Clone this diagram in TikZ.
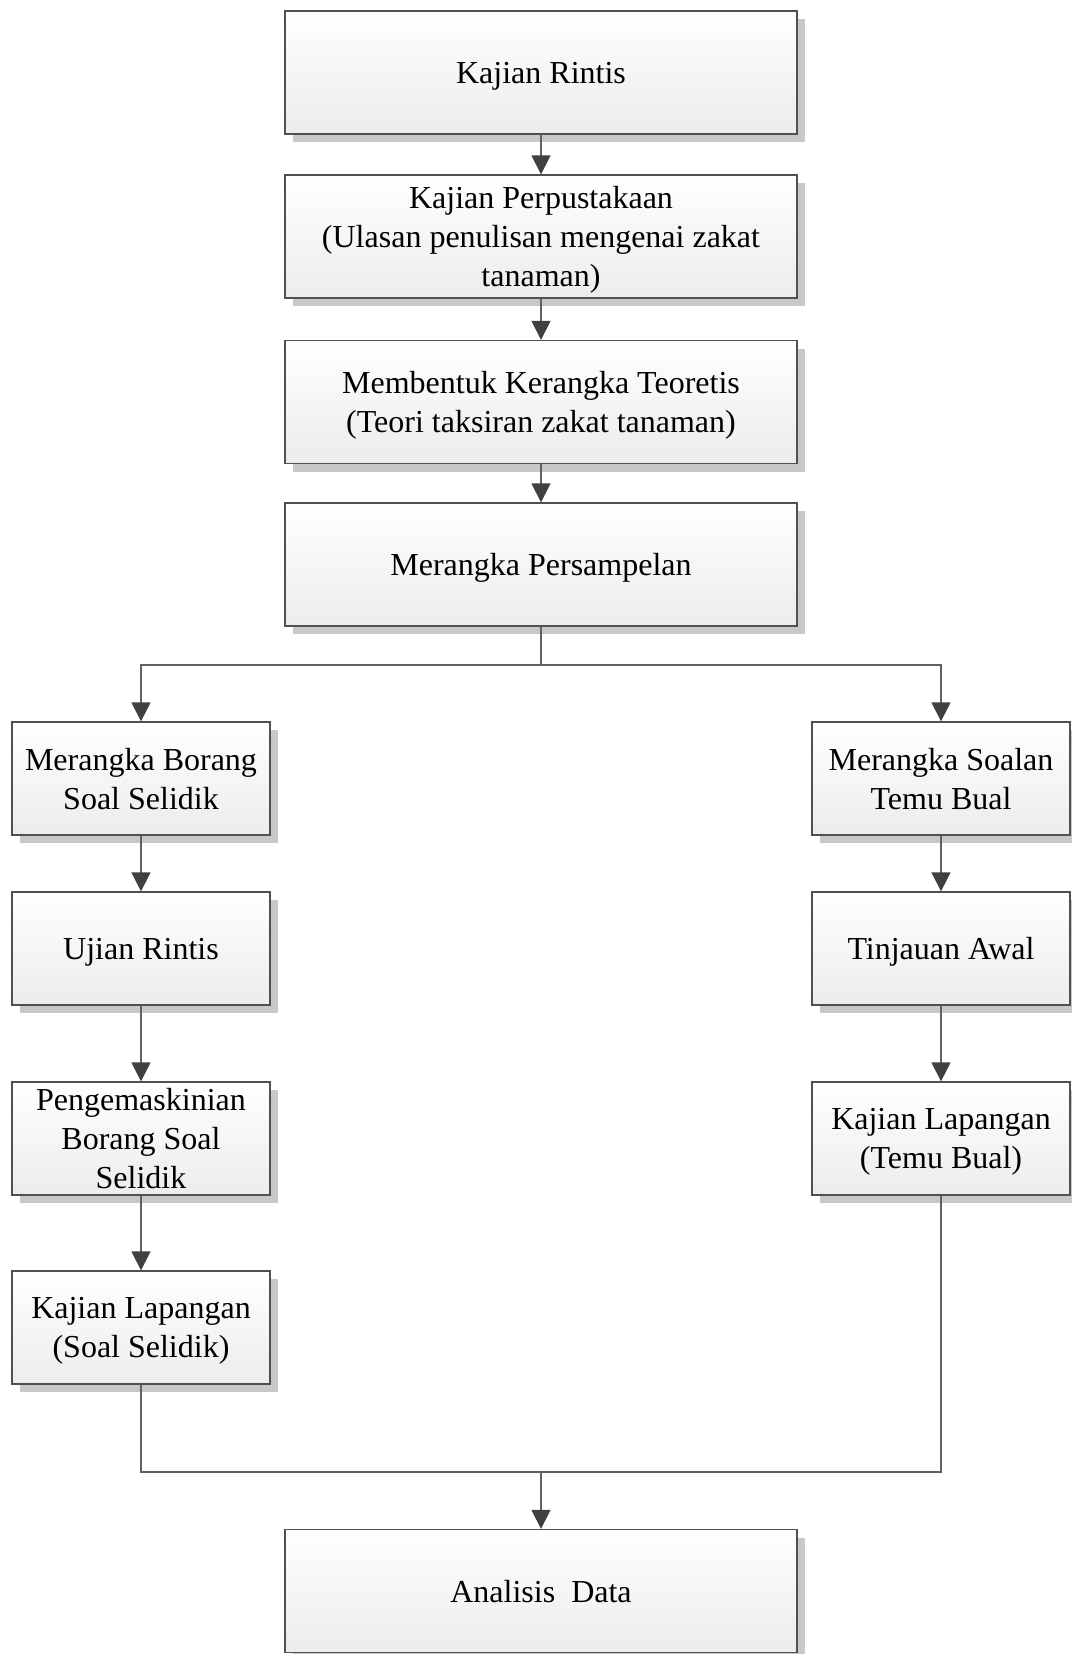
\documentclass[tikz,border=0pt]{standalone}
\usepackage{fontspec}
\setmainfont{Liberation Serif}
\usetikzlibrary{arrows.meta,shadows}
\definecolor{boxline}{HTML}{505050}
\definecolor{conn}{HTML}{606060}
\definecolor{headfill}{HTML}{404040}
\definecolor{shadowc}{HTML}{C8C8C8}
\definecolor{botc}{HTML}{ECECEC}
\tikzset{
  flowbox/.style={draw=boxline, line width=1.3pt, rectangle, top color=white, bottom color=botc,
    align=center, inner sep=0pt, text depth=0pt, font=\fontsize{32}{39}\selectfont, text=black,
    drop shadow={shadow xshift=8pt, shadow yshift=-8pt, fill=shadowc, opacity=1}},
  mainbox/.style={flowbox, minimum width=512pt, minimum height=123pt},
  sidebox/.style={flowbox, minimum width=258pt, minimum height=113pt},
  conline/.style={draw=conn, line width=1.3pt},
  conarrow/.style={conline, -{Triangle[width=19pt,length=19pt,fill=headfill,color=headfill]}}
}
\begin{document}
\begin{tikzpicture}[x=1pt,y=-1pt]
\useasboundingbox (0,0) rectangle (1071,1654);
\node[mainbox] (b1) at (541,72.5) {Kajian Rintis};
\node[mainbox] (b2) at (541,236.5) {Kajian Perpustakaan\\(Ulasan penulisan mengenai zakat\\tanaman)};
\node[mainbox] (b3) at (541,402) {Membentuk Kerangka Teoretis\\(Teori taksiran zakat tanaman)};
\node[mainbox] (b4) at (541,564.5) {Merangka Persampelan};
\node[sidebox] (l1) at (141,778.5) {Merangka Borang\\Soal Selidik};
\node[sidebox] (l2) at (141,948.5) {Ujian Rintis};
\node[sidebox] (l3) at (141,1138.5) {Pengemaskinian\\Borang Soal\\Selidik};
\node[sidebox] (l4) at (141,1327.5) {Kajian Lapangan\\(Soal Selidik)};
\node[sidebox] (r1) at (941,778.5) {Merangka Soalan\\Temu Bual};
\node[sidebox] (r2) at (941,948.5) {Tinjauan Awal};
\node[sidebox] (r3) at (941,1138.5) {Kajian Lapangan\\(Temu Bual)};
\node[mainbox] (fin) at (541,1591) {Analisis\ \ Data};
\coordinate (split) at (541,665);
\coordinate (merge) at (541,1472);
\draw[conarrow] (b1) -- (b2);
\draw[conarrow] (b2) -- (b3);
\draw[conarrow] (b3) -- (b4);
\draw[conline] (b4.south) -- (split);
\draw[conarrow] (split) -| (l1.north);
\draw[conarrow] (split) -| (r1.north);
\draw[conarrow] (l1) -- (l2);
\draw[conarrow] (l2) -- (l3);
\draw[conarrow] (l3) -- (l4);
\draw[conarrow] (r1) -- (r2);
\draw[conarrow] (r2) -- (r3);
\draw[conline] (l4.south) |- (merge);
\draw[conline] (r3.south) |- (merge);
\draw[conarrow] (merge) -- (fin.north);
\end{tikzpicture}
\end{document}
